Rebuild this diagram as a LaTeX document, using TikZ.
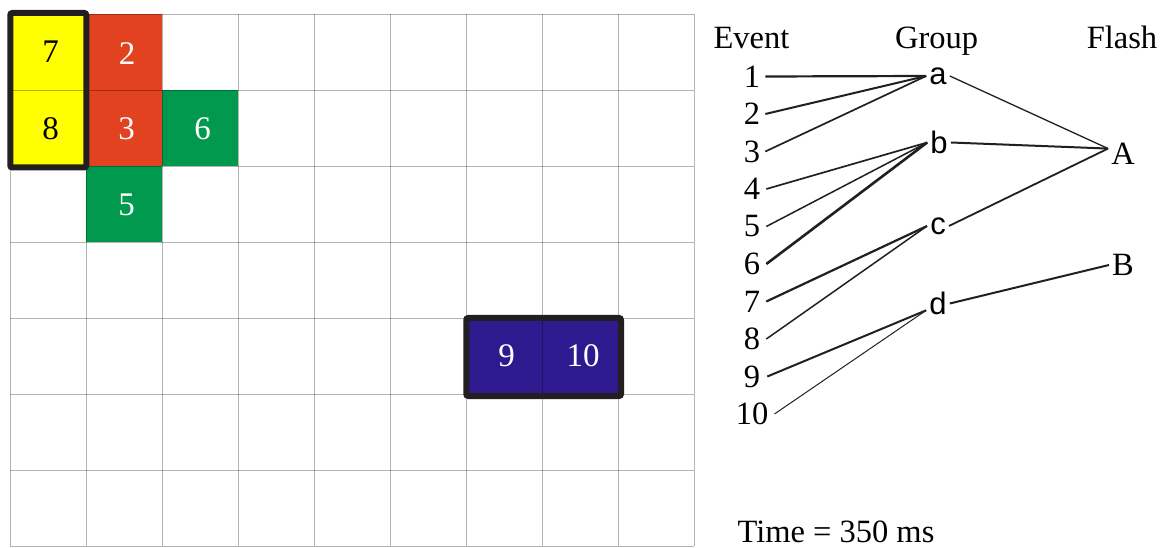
\documentclass[tikz,border=0pt]{standalone}
\usepackage{fontspec}
\setmainfont{Liberation Serif}
\newfontfamily\arialf{Liberation Sans}
\definecolor{gridgray}{HTML}{B4B4B4}
\definecolor{inkblack}{HTML}{231F20}
\definecolor{cellyellow}{HTML}{FFFF00}
\definecolor{cellred}{HTML}{E2421F}
\definecolor{cellgreen}{HTML}{00994E}
\definecolor{cellblue}{HTML}{2C1A8E}
\begin{document}
\begin{tikzpicture}[x=1pt,y=-1pt,
  gridline/.style={draw=gridgray, line width=0.9pt},
  framebox/.style={draw=inkblack, line width=6pt, rounded corners=2pt},
  cellnum/.style={font=\fontsize{33}{36}\selectfont, inner sep=0pt},
  evnum/.style={font=\fontsize{32.5}{36}\selectfont, inner sep=3pt},
  grp/.style={font=\arialf\fontsize{31}{36}\selectfont, inner sep=3pt},
  head/.style={font=\fontsize{32.5}{36}\selectfont, inner sep=0pt, anchor=base},
  link/.style={draw=inkblack, line width=#1},
  link/.default=1.8pt
]
\useasboundingbox (0,0) rectangle (1163,548);
% coloured cells
\fill[cellyellow] (10,14) rectangle (86,166);
\fill[cellred] (86,14) rectangle (162,166);
\fill[cellgreen] (162,90) rectangle (238,166);
\fill[cellgreen] (86,166) rectangle (162,242);
\fill[cellblue] (466,318) rectangle (618,394);
% grid
\begin{scope}[blend mode=multiply]
\foreach \i in {0,...,9} \draw[gridline] ({10+76*\i},14) -- ({10+76*\i},546);
\foreach \j in {0,...,7} \draw[gridline] (10,{14+76*\j}) -- (694,{14+76*\j});
\end{scope}
% frames
\draw[framebox] (10.3,13) rectangle (86.3,167.5);
\draw[framebox] (466.3,318) rectangle (621,396);
% cell numbers
\node[cellnum, text=black] (c7) at (50.5,52) {7};
\node[cellnum, text=black] (c8) at (50.5,129) {8};
\node[cellnum, text=white] (c2) at (127,54) {2};
\node[cellnum, text=white] (c3) at (126.5,129) {3};
\node[cellnum, text=white] (c6) at (202.5,129) {6};
\node[cellnum, text=white] (c5) at (126.5,205) {5};
\node[cellnum, text=white] (c9) at (506.5,356) {9};
\node[cellnum, text=white] (c10) at (583,356) {10};
% headers
\node[head] (hEvent) at (751.5,49) {Event};
\node[head] (hGroup) at (936.7,49) {Group};
\node[head] (hFlash) at (1122,49) {Flash};
% events
\foreach \k in {1,...,10}
  \node[evnum] (e\k) at (752,{76.5+37.5*(\k-1)}) {\k};
% groups
\node[grp] (ga) at (938,76) {a};
\node[grp] (gb) at (939,142.5) {b};
\node[grp] (gc) at (938,226) {c};
\node[grp] (gd) at (938,303.5) {d};
% flashes
\node[evnum] (fA) at (1123,154) {A};
\node[evnum] (fB) at (1123,265) {B};
% links
\draw[link=2.2pt] ([xshift=2pt]e1.east) -- (ga.west);
\draw[link=2.0pt] ([xshift=2pt]e2.east) -- (ga.west);
\draw[link=1.7pt] ([xshift=2pt]e3.east) -- (ga.west);
\draw[link=1.7pt] ([xshift=3pt]e4.east) -- (gb.west);
\draw[link=1.5pt] ([xshift=3pt]e5.east) -- (gb.west);
\draw[link=2.6pt] ([xshift=3pt]e6.east) -- (gb.west);
\draw[link=2.2pt] ([xshift=3pt]e7.east) -- (gc.west);
\draw[link=1.5pt] ([xshift=3pt]e8.east) -- (gc.west);
\draw[link=2.0pt] ([xshift=4pt]e9.east) -- (gd.210);
\draw[link=1.0pt] ([xshift=3pt]e10.east) -- (gd.210);
\draw[link=1.3pt] (ga.east) -- (fA.160);
\draw[link=2.0pt] (gb.east) -- (fA.160);
\draw[link=1.8pt] (gc.east) -- (fA.160);
\draw[link=2.0pt] (gd.east) -- (fB.west);
% time
\node[head] (time) at (836,542) {Time = 350 ms};
\end{tikzpicture}
\end{document}
